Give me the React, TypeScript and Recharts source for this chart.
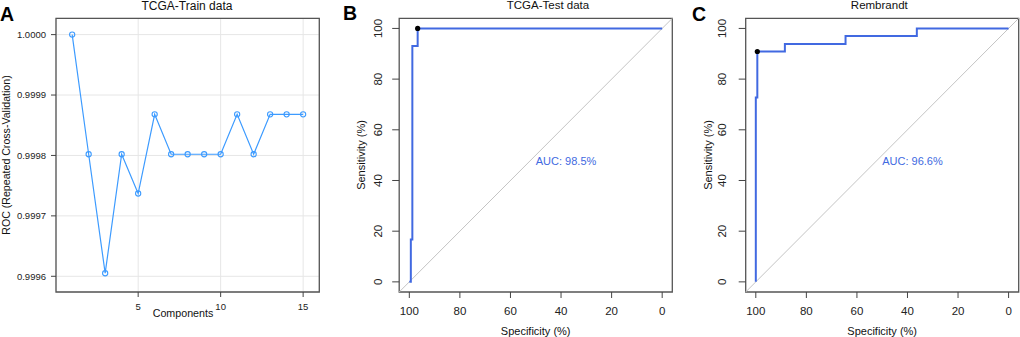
import React from 'react';
import {
  ComposedChart, LineChart, Line, Scatter, XAxis, YAxis, CartesianGrid,
  ReferenceArea, ReferenceLine,
} from 'recharts';

// Panel A: caret tuning curve
const components = [1, 2, 3, 4, 5, 6, 7, 8, 9, 10, 11, 12, 13, 14, 15];
const rocCv = [
  1.0, 0.999802, 0.999605, 0.999802, 0.999737, 0.999868, 0.999802, 0.999802,
  0.999802, 0.999802, 0.999868, 0.999802, 0.999868, 0.999868, 0.999868,
];
const yTicksA = [0.9996, 0.9997, 0.9998, 0.9999, 1.0];
const xTicksA = [5, 10, 15];

// Panels B and C: ROC curves (specificity %, sensitivity %)
const specB = [100, 99.4, 99.4, 98.8, 98.8, 96.7, 96.7, 0];
const sensB = [0, 0, 16.7, 16.7, 93.1, 93.1, 100, 100];
const bestB = [{ spec: 96.7, sens: 100 }];
const aucB = 'AUC: 98.5%';

const specC = [100, 100, 99.4, 99.4, 88.5, 88.5, 64.5, 64.5, 36.3, 36.3, 0];
const sensC = [0, 72.7, 72.7, 90.9, 90.9, 93.9, 93.9, 97.0, 97.0, 100, 100];
const bestC = [{ spec: 99.4, sens: 90.9 }];
const aucC = 'AUC: 96.6%';

const rocTicks = [0, 20, 40, 60, 80, 100];

const FONT = '"Liberation Sans", Arial, Helvetica, sans-serif';
const BLUE_A = '#3d9bff';
const BLUE = '#4169e1';
const BOX = '#555';

const dataA = components.map((c, i) => ({ comp: c, roc: rocCv[i] }));
const toRoc = (spec: number[], sens: number[]) => spec.map((s, i) => ({ spec: s, sens: sens[i] }));

function RotTick(props: any) {
  const { x, y, payload } = props;
  return (
    <text x={x} y={y} transform={`rotate(-90 ${x} ${y})`} textAnchor="middle"
      dominantBaseline="central" fontSize={11.5} fill="#222" fontFamily={FONT}>
      {payload.value}
    </text>
  );
}

function RocPanel({ left, yWidth, right, tickMargin, spec, sens, best, auc }: any) {
  const roc = toRoc(spec, sens);
  const aucPos = [{ spec: 50, sens: 50, label: auc }];
  return (
    <div style={{ position: 'absolute', left, top: 0 }}>
      <ComposedChart width={340} height={337} margin={{ top: 18.3, right, bottom: 0, left: 0 }}>
        <XAxis dataKey="spec" type="number" domain={[-4, 104]} reversed ticks={rocTicks}
          allowDataOverflow axisLine={false} tickSize={6} tickMargin={9} height={45}
          tickLine={{ stroke: '#444' }} tick={{ fontSize: 11.5, fill: '#222', fontFamily: FONT }} />
        <YAxis dataKey="sens" type="number" domain={[-4, 104]} ticks={rocTicks}
          allowDataOverflow axisLine={false} tickSize={7} tickMargin={tickMargin} width={yWidth}
          tickLine={{ stroke: '#444' }} tick={<RotTick />} />
        <ReferenceLine segment={[{ x: 104, y: -4 }, { x: -4, y: 104 }]} stroke="#c4c4c4" strokeWidth={1} />
        <Line data={roc} dataKey="sens" type="linear" stroke={BLUE} strokeWidth={2}
          dot={false} isAnimationActive={false} />
        <Scatter data={best} dataKey="sens" fill="#000" isAnimationActive={false}
          shape={(p: any) => <circle cx={p.cx} cy={p.cy} r={2.6} fill="#000" />} />
        <Scatter data={aucPos} dataKey="sens" isAnimationActive={false}
          shape={(p: any) => (
            <text x={p.cx} y={p.cy} dy="0.85em" fontSize={11} fill={BLUE} fontFamily={FONT}>
              {p.payload.label}
            </text>
          )} />
        <ReferenceArea x1={-4} x2={104} y1={-4} y2={104} fill="none" stroke={BOX} strokeWidth={1.3} />
      </ComposedChart>
    </div>
  );
}

export default function App() {
  return (
    <div style={{ position: 'absolute', left: 0, top: 0, width: 1020, height: 337, background: '#fff', fontFamily: FONT }}>
      <div style={{ position: 'absolute', left: 0, top: 0 }}>
        <LineChart width={340} height={337} data={dataA} margin={{ top: 18.3, right: 20.7, bottom: 0, left: 0 }}>
          <CartesianGrid stroke="#e6e6e6" />
          <XAxis dataKey="comp" type="number" domain={[0.02, 15.98]} ticks={xTicksA}
            axisLine={false} tickSize={5} tickMargin={6} height={45}
            tickLine={{ stroke: '#444' }} tick={{ fontSize: 9.5, fill: '#222', fontFamily: FONT }} />
          <YAxis type="number" domain={[0.999574, 1.000027]} ticks={yTicksA}
            tickFormatter={(v: number) => v.toFixed(4)} allowDataOverflow
            axisLine={false} tickSize={5} tickMargin={5} width={56}
            tickLine={{ stroke: '#444' }} tick={{ fontSize: 9.5, fill: '#222', fontFamily: FONT }} />
          <Line dataKey="roc" type="linear" stroke={BLUE_A} strokeWidth={1.2}
            dot={{ r: 2.6, stroke: BLUE_A, strokeWidth: 1.1, fill: 'none' }} isAnimationActive={false} />
          <ReferenceArea x1={0.02} x2={15.98} y1={0.999574} y2={1.000027} fill="none" stroke={BOX} strokeWidth={1.3} />
        </LineChart>
      </div>

      <RocPanel left={340} yWidth={59.2} right={7.7} tickMargin={13.9}
        spec={specB} sens={sensB} best={bestB} auc={aucB} />
      <RocPanel left={680} yWidth={65.7} right={1.3} tickMargin={16.2}
        spec={specC} sens={sensC} best={bestC} auc={aucC} />

      <svg width={1020} height={337} style={{ position: 'absolute', left: 0, top: 0, pointerEvents: 'none' }}
        fontFamily={FONT}>
        <text x={0} y={20.7} fontSize={19.5} fontWeight="bold" fill="#000">A</text>
        <text x={343} y={20.3} fontSize={19.5} fontWeight="bold" fill="#000">B</text>
        <text x={692} y={20.7} fontSize={19.5} fontWeight="bold" fill="#000">C</text>

        <text x={187} y={10} fontSize={12} textAnchor="middle" fill="#111">TCGA-Train data</text>
        <text x={548} y={9.3} fontSize={11.5} textAnchor="middle" fill="#111">TCGA-Test data</text>
        <text x={879.3} y={9.3} fontSize={11.5} textAnchor="middle" fill="#111">Rembrandt</text>

        <text x={6} y={155} fontSize={10.6} textAnchor="middle" dominantBaseline="central"
          transform="rotate(-90 6 155)" fill="#111">ROC (Repeated Cross-Validation)</text>
        <text x={183} y={316.5} fontSize={10.7} textAnchor="middle" fill="#111">Components</text>

        <text x={360.5} y={155} fontSize={11} textAnchor="middle" dominantBaseline="central"
          transform="rotate(-90 360.5 155)" fill="#111">Sensitivity (%)</text>
        <text x={535.7} y={334.5} fontSize={11} textAnchor="middle" fill="#111">Specificity (%)</text>

        <text x={707.5} y={155} fontSize={11} textAnchor="middle" dominantBaseline="central"
          transform="rotate(-90 707.5 155)" fill="#111">Sensitivity (%)</text>
        <text x={882.2} y={334.5} fontSize={11} textAnchor="middle" fill="#111">Specificity (%)</text>
      </svg>
    </div>
  );
}
